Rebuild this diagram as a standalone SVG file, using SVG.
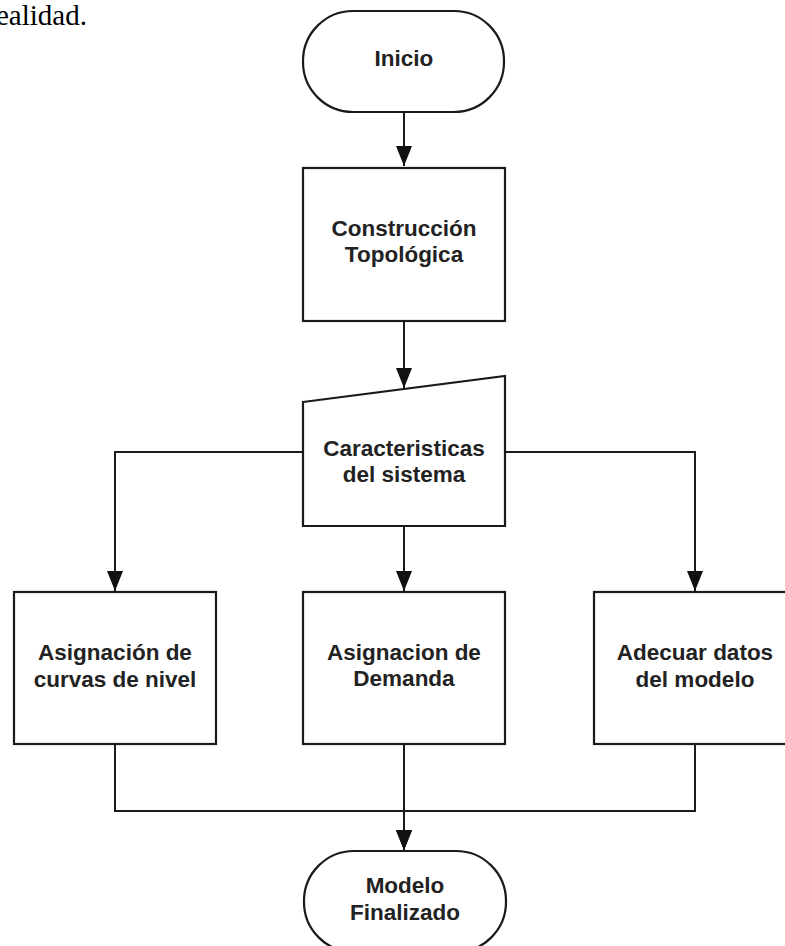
<svg xmlns="http://www.w3.org/2000/svg" width="785" height="946" viewBox="0 0 785 946">
<style>
.shape{fill:#fff;stroke:#1a1a1a;stroke-width:2.2}
.conn{fill:none;stroke:#1a1a1a;stroke-width:2}
.lbl{font-family:"Liberation Sans",Arial,sans-serif;font-weight:bold;font-size:22.5px;fill:#222;text-anchor:middle}
.doc{font-family:"Liberation Serif","Times New Roman",serif;font-size:29px;fill:#000}
</style>
<defs>
<marker id="arrd" markerUnits="userSpaceOnUse" markerWidth="22" markerHeight="18" viewBox="0 0 22 18" refX="21" refY="9" orient="auto">
<path d="M1,1 L21,9 L1,17 Z" fill="#111"/>
</marker>
</defs>
<text class="doc" x="-4" y="25">ealidad.</text>
<g id="connectors">
<path class="conn" d="M404,112 V166" marker-end="url(#arrd)"/>
<path class="conn" d="M404,321 V388" marker-end="url(#arrd)"/>
<path class="conn" d="M303,452 H115 V591" marker-end="url(#arrd)"/>
<path class="conn" d="M404,526 V591" marker-end="url(#arrd)"/>
<path class="conn" d="M505,452 H695 V591" marker-end="url(#arrd)"/>
<path class="conn" d="M115,744 V811 H404 V850" marker-end="url(#arrd)"/>
<path class="conn" d="M695,744 V811 H404 V850" marker-end="url(#arrd)"/>
<path class="conn" d="M404,744 V850" marker-end="url(#arrd)"/>
</g>
<g id="inicio">
<rect class="shape" x="303" y="11" width="201" height="101" rx="50" ry="50"/>
<text class="lbl" x="404" y="66">Inicio</text>
</g>
<g id="construccion">
<rect class="shape" x="303" y="168" width="202" height="153"/>
<text class="lbl" x="404" y="236">Construcción</text>
<text class="lbl" x="404" y="262">Topológica</text>
</g>
<g id="caracteristicas">
<polygon class="shape" points="303,402 505,376 505,526 303,526"/>
<text class="lbl" x="404" y="456">Caracteristicas</text>
<text class="lbl" x="404" y="482">del sistema</text>
</g>
<g id="curvas">
<rect class="shape" x="14" y="592" width="202" height="152"/>
<text class="lbl" x="115" y="660">Asignación de</text>
<text class="lbl" x="115" y="687">curvas de nivel</text>
</g>
<g id="demanda">
<rect class="shape" x="303" y="592" width="202" height="152"/>
<text class="lbl" x="404" y="660">Asignacion de</text>
<text class="lbl" x="404" y="686">Demanda</text>
</g>
<g id="adecuar">
<rect class="shape" x="594" y="592" width="202" height="152"/>
<text class="lbl" x="695" y="660">Adecuar datos</text>
<text class="lbl" x="695" y="687">del modelo</text>
</g>
<g id="modelo">
<rect class="shape" x="304" y="851" width="202" height="101" rx="50" ry="50"/>
<text class="lbl" x="405" y="893">Modelo</text>
<text class="lbl" x="405" y="920">Finalizado</text>
</g>
</svg>
